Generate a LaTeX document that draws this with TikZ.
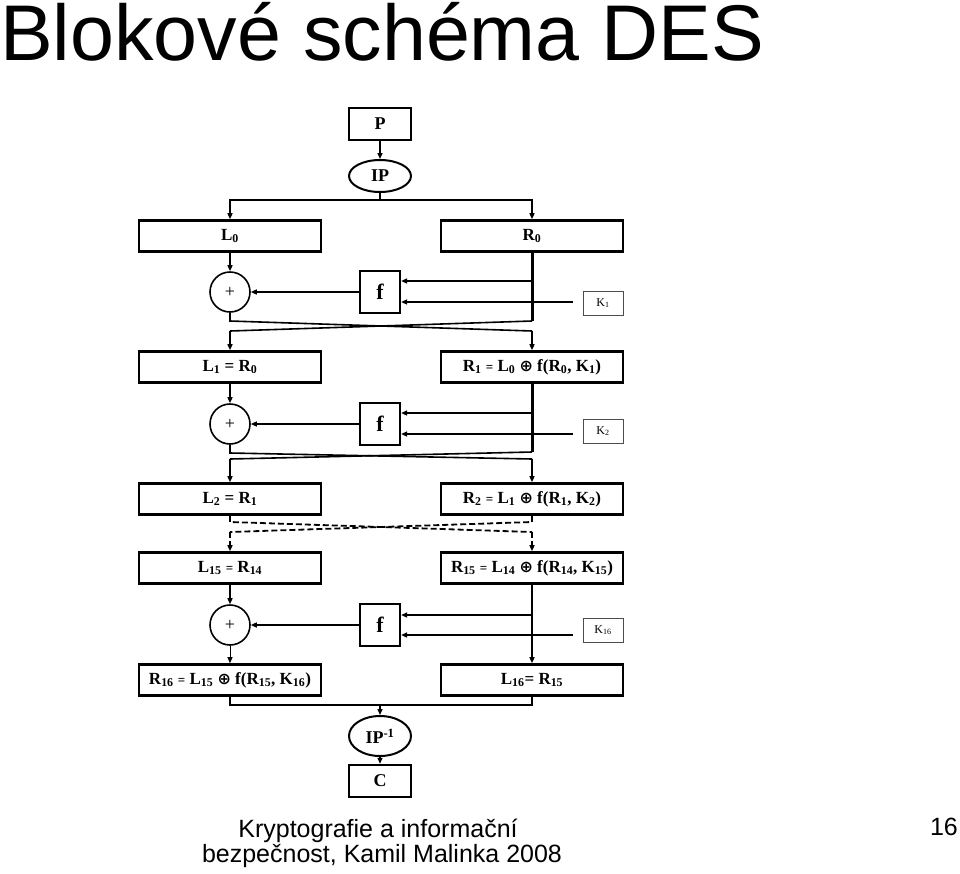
\documentclass[tikz,border=0pt]{standalone}
\usepackage{fontspec}
\setmainfont{Liberation Serif}
\newfontfamily\slidefont{Liberation Sans}
\newfontfamily\opfont{DejaVu Sans}
\usepackage{tikz}
\usetikzlibrary{shapes.geometric, arrows.meta, calc}
\newcommand{\smalleq}{{\fontsize{13}{13}\selectfont =}}
\newcommand{\xorop}{{\opfont\fontsize{16}{16}\selectfont\bfseries ⊕}}

\begin{document}
\begin{tikzpicture}[x=1pt, y=-1pt,
    half/.style={rectangle, draw, line width=2.6pt,
                 minimum width=182pt, minimum height=31pt,
                 inner sep=0pt, font=\fontsize{17}{19}\selectfont\bfseries},
    io/.style={rectangle, draw, line width=2.4pt,
               minimum width=62pt, minimum height=32pt,
               inner sep=0pt, font=\fontsize{18}{20}\selectfont\bfseries},
    perm/.style={ellipse, draw, line width=2pt,
                 minimum width=62pt, minimum height=32pt,
                 inner sep=0pt, font=\fontsize{18}{20}\selectfont\bfseries},
    fbox/.style={rectangle, draw, line width=2.2pt,
                 minimum width=40pt, minimum height=42pt,
                 inner sep=0pt, font=\fontsize{22}{24}\selectfont\bfseries},
    xorc/.style={circle, draw, line width=1.6pt, minimum size=40pt,
                 inner sep=0pt, font=\fontsize{18}{20}\selectfont},
    keybox/.style={rectangle, draw=black!70, line width=1pt,
                   minimum width=40pt, minimum height=24pt,
                   inner sep=0pt, font=\fontsize{12}{14}\selectfont},
    wire/.style={line width=1.6pt},
    rwire/.style={line width=3pt},
    arr/.style={-{Triangle[length=6pt, width=5pt]}, line width=1.4pt},
    dwire/.style={line width=1.8pt, dash pattern=on 6pt off 3pt},
    slide/.style={inner sep=0pt, font=\slidefont\fontsize{25}{25}\selectfont}
]
\useasboundingbox (0,0) rectangle (960,873);

%% Slide title and footer
\node[anchor=base west, inner sep=0pt, text height=57pt, font=\slidefont\fontsize{79}{79}\selectfont] (title) at (0,60) {Blokové schéma DES};
\node[slide, anchor=base] (foot1) at (378,837) {Kryptografie a informační};
\node[slide, anchor=base] (foot2) at (382,862) {bezpečnost, Kamil Malinka 2008};
\node[slide, anchor=base east] (page) at (958,835) {16};

%% Input and initial permutation
\node[io]   (P)  at (380,124) {P};
\node[perm] (IP) at (380,176) {IP};
\coordinate (s0) at (380,200);
\node[half] (L0) at (230,236) {L\textsubscript{0}};
\node[half] (R0) at (532,236) {R\textsubscript{0}};
\draw[arr]  (P) -- (IP);
\draw[wire] (IP) -- (s0);
\draw[arr]  (s0) -| (L0);
\draw[arr]  (s0) -| (R0);

%% -- Round 1 ------------------------------------------------------
\node[xorc]   (X1) at (230,292) {+};
\node[fbox]   (F1) at (380,292) {f};
\node[keybox] (K1) at (603,303) {K\textsubscript{1}};
\coordinate (t1) at (532,281);
\coordinate (k1) at (573,302);
\draw[arr] (L0) -- (X1);
\draw[arr] (F1) -- (X1);
\draw[arr] (t1) -- (t1 -| F1.east);
\draw[arr] (k1) -- (k1 -| F1.east);

\coordinate (a1) at (230,321);
\coordinate (b1) at (532,321);
\coordinate (c1) at (230,331);
\coordinate (d1) at (532,331);
\node[half] (L1) at (230,367) {L\textsubscript{1} = R\textsubscript{0}};
\node[half] (R1) at (532,367) {R\textsubscript{1} \smalleq{} L\textsubscript{0} \xorop{} f(R\textsubscript{0}, K\textsubscript{1})};
\draw[rwire] (R0) -- (b1);
\draw[wire]  (X1) -- (a1) -- (d1);
\draw[wire]  (b1) -- (c1);
\draw[arr]   (c1) -- (L1);
\draw[arr]   (d1) -- (R1);

%% -- Round 2 ------------------------------------------------------
\node[xorc]   (X2) at (230,424) {+};
\node[fbox]   (F2) at (380,424) {f};
\node[keybox] (K2) at (603,431) {K\textsubscript{2}};
\coordinate (t2) at (532,413);
\coordinate (k2) at (573,434);
\draw[arr] (L1) -- (X2);
\draw[arr] (F2) -- (X2);
\draw[arr] (t2) -- (t2 -| F2.east);
\draw[arr] (k2) -- (k2 -| F2.east);

\coordinate (a2) at (230,453);
\coordinate (b2) at (532,452);
\coordinate (c2) at (230,459);
\coordinate (d2) at (532,459);
\node[half] (L2) at (230,499) {L\textsubscript{2} = R\textsubscript{1}};
\node[half] (R2) at (532,499) {R\textsubscript{2} \smalleq{} L\textsubscript{1} \xorop{} f(R\textsubscript{1}, K\textsubscript{2})};
\draw[rwire] (R1) -- (b2);
\draw[wire]  (X2) -- (a2) -- (d2);
\draw[wire]  (b2) -- (c2);
\draw[arr]   (c2) -- (L2);
\draw[arr]   (d2) -- (R2);

%% -- Rounds 3..14 (skipped) ---------------------------------------
\coordinate (a3) at (230,522);
\coordinate (b3) at (532,522);
\coordinate (c3) at (230,532);
\coordinate (d3) at (532,532);
\node[half] (L15) at (230,568) {L\textsubscript{15} \smalleq{} R\textsubscript{14}};
\node[half] (R15) at (532,568) {R\textsubscript{15} \smalleq{} L\textsubscript{14} \xorop{} f(R\textsubscript{14}, K\textsubscript{15})};
\draw[dwire]      (L2) -- (a3) -- (d3);
\draw[dwire]      (R2) -- (b3) -- (c3);
\draw[dwire, arr] (c3) -- (L15);
\draw[dwire, arr] (d3) -- (R15);

%% -- Round 16 (no swap) -------------------------------------------
\node[xorc]   (X3)  at (230,625) {+};
\node[fbox]   (F3)  at (380,625) {f};
\node[keybox] (K16) at (603,630) {K\textsubscript{16}};
\coordinate (t3) at (532,615);
\coordinate (k3) at (573,635);
\draw[arr] (L15) -- (X3);
\draw[arr] (F3) -- (X3);
\draw[arr] (t3) -- (t3 -| F3.east);
\draw[arr] (k3) -- (k3 -| F3.east);

\node[half] (R16) at (230,680) {R\textsubscript{16} \smalleq{} L\textsubscript{15} \xorop{} f(R\textsubscript{15}, K\textsubscript{16})};
\node[half] (L16) at (532,680) {L\textsubscript{16}= R\textsubscript{15}};
\draw[arr, line width=1pt] (X3) -- (R16);
\draw[arr] (R15) -- (L16);

%% Output permutation
\coordinate (e1) at (230,705);
\coordinate (e2) at (532,705);
\coordinate (e0) at (380,705);
\node[perm, minimum height=40pt] (IPinv) at (380,736) {IP\textsuperscript{-1}};
\node[io] (C) at (380,781) {C};
\draw[wire, line width=2.4pt] (R16) -- (e1) -- (e2) -- (L16);
\draw[arr] (e0) -- (IPinv);
\draw[arr] (IPinv) -- (C);

\end{tikzpicture}
\end{document}
